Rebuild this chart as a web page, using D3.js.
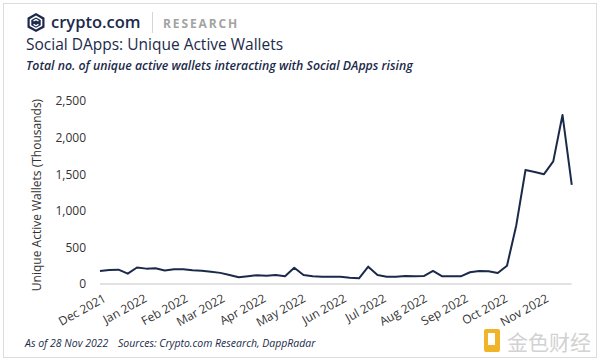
<!DOCTYPE html>
<html>
<head>
<meta charset="utf-8">
<script src="https://cdn.jsdelivr.net/npm/d3@7"></script>
<style>
  body { margin: 0; background: #fff; }
  svg { display: block; font-family: "Open Sans", sans-serif; }
</style>
</head>
<body>
<svg id="chart" width="600" height="361"></svg>
<script>
// weekly unique active wallets, thousands
var walletValues = [178, 190, 196, 141, 226, 210, 216, 185, 200, 200,
    187, 180, 166, 152, 123, 91, 107, 120, 114, 122,
    105, 223, 123, 105, 100, 100, 100, 85, 78, 237,
    123, 100, 100, 108, 105, 108, 178, 105, 105, 105,
    160, 178, 175, 150, 250, 800, 1557, 1530, 1500, 1675,
    2309, 1355];
var firstWeek = "2021-12-01";
var monthLabels = ["Dec 2021", "Jan 2022", "Feb 2022", "Mar 2022", "Apr 2022", "May 2022",
    "Jun 2022", "Jul 2022", "Aug 2022", "Sep 2022", "Oct 2022", "Nov 2022"];
var yTicks = [0, 500, 1000, 1500, 2000, 2500];

var navy = "#1b2a4a";

var svg = d3.select("#chart");

// outer frame
svg.append("rect")
    .attr("x", 3.5).attr("y", 3.5)
    .attr("width", 593).attr("height", 354)
    .attr("fill", "#fff")
    .attr("stroke", "#dcdcdc");

/* header: logo + titles */
var logo = svg.append("g");
logo.append("path")
    .attr("d", "M36,13 L44.5,17.8 L44.5,27.4 L36,32 L27.5,27.4 L27.5,17.8 Z")
    .attr("fill", navy);
logo.append("path")
    .attr("d", "M36,16.5 L41.5,19.6 L41.5,25.6 L36,28.6 L30.5,25.6 L30.5,19.6 Z")
    .attr("fill", "none").attr("stroke", "#fff").attr("stroke-width", 1.6);
logo.append("path")
    .attr("d", "M33.5,21 L36,19.6 L38.5,21 M33.5,24.4 L36,25.8 L38.5,24.4")
    .attr("fill", "none").attr("stroke", "#fff").attr("stroke-width", 1.4);
logo.append("text")
    .attr("x", 51).attr("y", 28)
    .attr("font-size", 16.5).attr("font-weight", 600)
    .attr("fill", navy)
    .text("crypto.com");
logo.append("line")
    .attr("x1", 152.5).attr("x2", 152.5)
    .attr("y1", 12).attr("y2", 33)
    .attr("stroke", "#d6d6d6");
logo.append("text")
    .attr("x", 163).attr("y", 27.5)
    .attr("font-size", 12).attr("font-weight", 700)
    .attr("letter-spacing", 1.9)
    .attr("fill", "#a3a3a3")
    .text("RESEARCH");

svg.append("text")
    .attr("x", 26).attr("y", 50)
    .attr("font-size", 15.5)
    .attr("fill", navy)
    .text("Social DApps: Unique Active Wallets");
svg.append("text")
    .attr("x", 26).attr("y", 70)
    .attr("font-size", 12.3).attr("font-style", "italic").attr("font-weight", 600)
    .attr("fill", navy)
    .text("Total no. of unique active wallets interacting with Social DApps rising");

/* scales */
var parseDay = d3.timeParse("%Y-%m-%d"),
    parseMonth = d3.timeParse("%b %Y");
var start = parseDay(firstWeek);
var data = walletValues.map(function(v, i) {
    return { date: d3.timeDay.offset(start, 7 * i), value: v };
});

var x = d3.scaleTime()
    .domain(d3.extent(data, function(d) { return d.date; }))
    .range([100, 571.75]);
var y = d3.scaleLinear()
    .domain([0, 2500])
    .range([284, 101]);

/* y axis */
var yAxis = svg.append("g")
    .attr("transform", "translate(86,0)")
    .call(d3.axisLeft(y).tickValues(yTicks).tickFormat(d3.format(",")).tickSize(0).tickPadding(0));
yAxis.select(".domain").remove();
yAxis.selectAll("text")
    .attr("font-family", "Open Sans, sans-serif")
    .attr("font-size", 12)
    .attr("fill", "#333");

svg.append("text")
    .attr("transform", "translate(41,195) rotate(-90)")
    .attr("text-anchor", "middle")
    .attr("font-size", 12)
    .attr("fill", "#333")
    .text("Unique Active Wallets (Thousands)");

/* x axis */
var xAxis = svg.append("g")
    .attr("transform", "translate(0,284)")
    .call(d3.axisBottom(x)
        .tickValues(monthLabels.map(parseMonth))
        .tickFormat(d3.timeFormat("%b %Y"))
        .tickSize(0));
xAxis.select(".domain").remove();
xAxis.selectAll("text")
    .attr("font-family", "Open Sans, sans-serif")
    .attr("font-size", 12)
    .attr("fill", "#333")
    .attr("text-anchor", "end")
    .attr("transform", "translate(2,9) rotate(-29)")
    .attr("y", 0).attr("dy", "0.75em");

// baseline
svg.append("line")
    .attr("x1", x.range()[0]).attr("x2", x.range()[1])
    .attr("y1", y(0)).attr("y2", y(0))
    .attr("stroke", "#d9d9d9").attr("stroke-width", 1.5);

/* the series */
var line = d3.line()
    .x(function(d) { return x(d.date); })
    .y(function(d) { return y(d.value); });

svg.append("path")
    .datum(data)
    .attr("d", line)
    .attr("fill", "none")
    .attr("stroke", navy)
    .attr("stroke-width", 2)
    .attr("stroke-linejoin", "round");

/* footer */
svg.append("text")
    .attr("x", 25).attr("y", 347)
    .attr("font-size", 10.5).attr("font-style", "italic")
    .attr("fill", navy)
    .text("As of 28 Nov 2022");
svg.append("text")
    .attr("x", 118).attr("y", 347)
    .attr("font-size", 10.5).attr("font-style", "italic")
    .attr("fill", navy)
    .text("Sources: Crypto.com Research, DappRadar");

// watermark
var wm = svg.append("g");
wm.append("rect")
    .attr("x", 484).attr("y", 329).attr("width", 16).attr("height", 23)
    .attr("rx", 2).attr("fill", "#f0b429");
wm.append("rect")
    .attr("x", 488).attr("y", 333).attr("width", 7).attr("height", 12)
    .attr("fill", "#fff");
wm.append("text")
    .attr("x", 507).attr("y", 350)
    .attr("font-family", "Noto Sans CJK SC, sans-serif")
    .attr("font-size", 21)
    .attr("fill", "#d2d2d2")
    .text("金色财经");
</script>
</body>
</html>
